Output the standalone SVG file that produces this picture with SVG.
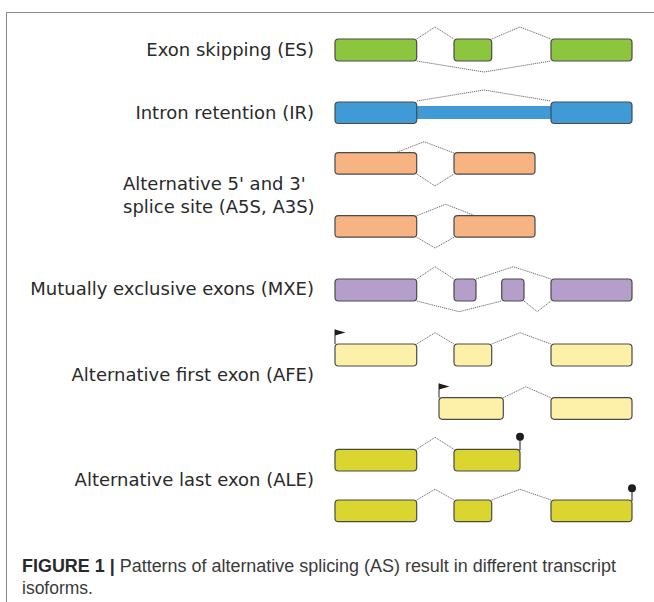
<svg xmlns="http://www.w3.org/2000/svg" width="654" height="602" viewBox="0 0 654 602">
<style>
.lbl{font-family:"DejaVu Sans",sans-serif;font-size:18px;fill:#2a2a2a}
.end{text-anchor:end}
.ex{stroke:#4a4a4a;stroke-width:1.2}
.es{fill:#8cc63f}.ir{fill:#3f9ad6}.a5{fill:#f8b382}.mx{fill:#b49fca}.af{fill:#fdf0a9}.al{fill:#dbd52f}
.cn{fill:none;stroke:#6e6e6e;stroke-width:1;stroke-dasharray:1.2 0.8}
.cap{font-family:"Liberation Sans",Arial,sans-serif;font-size:17.5px;fill:#3a3a3a}
</style>
<rect x="6.5" y="12.5" width="660" height="600" fill="#fff" stroke="#8a8a8a" stroke-width="1"/>

<g id="connectors">
<polyline class="cn" points="416.7,39 435,27 454,39"/>
<polyline class="cn" points="491.7,39 520,27 551,39"/>
<polyline class="cn" points="416.7,61 484,72 551,61"/>
<polyline class="cn" points="416.7,101 484,90 551,101"/>
<polyline class="cn" points="395,153 424,141.7 454,153"/>
<polyline class="cn" points="416.7,174 435,186 454,174"/>
<polyline class="cn" points="416.7,215.7 445.7,204.3 475,215.7"/>
<polyline class="cn" points="416.7,237.3 435,248 454,237.3"/>
<polyline class="cn" points="416.7,279 435,266.7 454,279"/>
<polyline class="cn" points="476,279 513.3,266.7 551,279"/>
<polyline class="cn" points="416.7,301 459.3,311.7 501.7,301"/>
<polyline class="cn" points="524,301 537.3,311.7 551,301"/>
<polyline class="cn" points="416.7,344 435,332.7 454,344"/>
<polyline class="cn" points="491.7,344 520,332.7 551,344"/>
<polyline class="cn" points="503.3,397.7 525.7,386.7 551,397.7"/>
<polyline class="cn" points="416.7,449.3 435,437.3 454,449.3"/>
<polyline class="cn" points="416.7,500 435,489.3 454,500"/>
<polyline class="cn" points="491.7,500 520,489.3 551,500"/>
</g>

<g id="es">
<text class="lbl end" x="314" y="55.5">Exon skipping (ES)</text>
<rect class="ex es" x="335" y="39" width="81.7" height="22" rx="3.5"/>
<rect class="ex es" x="454" y="39" width="37.7" height="22" rx="3.5"/>
<rect class="ex es" x="551" y="39" width="81" height="22" rx="3.5"/>
</g>

<g id="ir">
<text class="lbl end" x="314" y="118.5">Intron retention (IR)</text>
<rect class="ir" x="414" y="106" width="140" height="13"/>
<rect class="ex ir" x="335" y="102" width="81.7" height="21.5" rx="3.5"/>
<rect class="ex ir" x="551" y="102" width="81" height="21.5" rx="3.5"/>
</g>

<g id="a5s">
<text class="lbl" x="123" y="190">Alternative 5' and 3'</text>
<text class="lbl" x="123" y="212.5">splice site (A5S, A3S)</text>
<rect class="ex a5" x="335" y="152.7" width="81.7" height="21.5" rx="3.5"/>
<rect class="ex a5" x="454" y="152.7" width="81" height="21.5" rx="3.5"/>
<rect class="ex a5" x="335" y="215.7" width="81.7" height="21.5" rx="3.5"/>
<rect class="ex a5" x="454" y="215.7" width="81" height="21.5" rx="3.5"/>
</g>

<g id="mxe">
<text class="lbl end" x="314" y="295">Mutually exclusive exons (MXE)</text>
<rect class="ex mx" x="335" y="279" width="81.7" height="22" rx="3.5"/>
<rect class="ex mx" x="454" y="279" width="22" height="22" rx="3.5"/>
<rect class="ex mx" x="501.7" y="279" width="22.3" height="22" rx="3.5"/>
<rect class="ex mx" x="551" y="279" width="81" height="22" rx="3.5"/>
</g>

<g id="afe">
<text class="lbl end" x="314" y="381">Alternative first exon (AFE)</text>
<line x1="335" y1="344" x2="335" y2="329.5" stroke="#4a4a4a" stroke-width="1.2"/>
<polygon points="335,329.5 345.5,332.5 335,335.5" fill="#1e1e1e"/>
<rect class="ex af" x="335" y="344" width="81.7" height="22" rx="3.5"/>
<rect class="ex af" x="454" y="344" width="37.7" height="22" rx="3.5"/>
<rect class="ex af" x="551" y="344" width="81" height="22" rx="3.5"/>
<line x1="439" y1="397.7" x2="439" y2="383.5" stroke="#4a4a4a" stroke-width="1.2"/>
<polygon points="439,383.5 449.5,386.5 439,389.5" fill="#1e1e1e"/>
<rect class="ex af" x="439" y="397.7" width="64.3" height="21.6" rx="3.5"/>
<rect class="ex af" x="551" y="397.7" width="81" height="21.6" rx="3.5"/>
</g>

<g id="ale">
<text class="lbl end" x="314" y="486">Alternative last exon (ALE)</text>
<rect class="ex al" x="335" y="449.3" width="81.7" height="21.7" rx="3.5"/>
<rect class="ex al" x="454" y="449.3" width="66" height="21.7" rx="3.5"/>
<line x1="520" y1="450" x2="520" y2="437" stroke="#4a4a4a" stroke-width="1.3"/>
<circle cx="520" cy="436.7" r="4" fill="#1e1e1e"/>
<rect class="ex al" x="335" y="500" width="81.7" height="21.7" rx="3.5"/>
<rect class="ex al" x="454" y="500" width="37.7" height="21.7" rx="3.5"/>
<rect class="ex al" x="551" y="500" width="81" height="21.7" rx="3.5"/>
<line x1="632" y1="501" x2="632" y2="489" stroke="#4a4a4a" stroke-width="1.3"/>
<circle cx="632" cy="488.3" r="4" fill="#1e1e1e"/>
</g>

<g id="caption">
<text class="cap" x="22" y="572" textLength="594" lengthAdjust="spacingAndGlyphs"><tspan font-weight="bold" fill="#2a2a2a">FIGURE 1 |</tspan> Patterns of alternative splicing (AS) result in different transcript</text>
<text class="cap" x="22" y="594">isoforms.</text>
</g>
</svg>
